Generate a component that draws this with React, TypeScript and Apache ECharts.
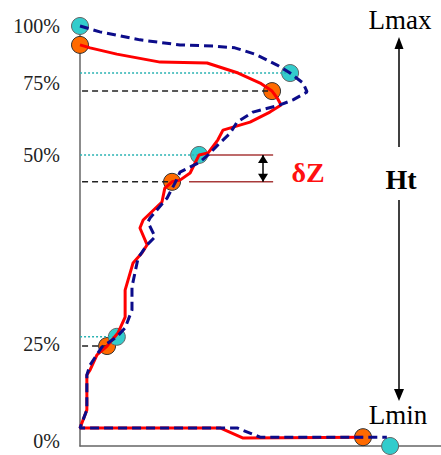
import React, { useEffect, useRef } from 'react';
import * as echarts from 'echarts';

// Profile of the measured (red, solid) and modelled (blue, dashed) curves: [x, height]
const redProfile: [number, number][] = [
  [0, 95.5], [2.8, 94.8], [10.2, 93.3], [22.2, 91.4], [35.2, 91.2], [43.8, 88.8], [49.9, 86.4],
  [53.2, 84.5], [54.6, 82.9], [55.7, 81.2], [52.6, 79.5], [47.1, 77.1], [39.6, 75.2], [38.2, 72.9],
  [35.5, 69.8], [33.0, 69.3], [30.5, 65.0], [27.7, 63.3], [25.5, 62.9], [23.5, 61.4], [22.7, 58.1],
  [17.5, 53.8], [16.6, 51.9], [18.6, 47.9], [17.2, 46.0], [14.7, 43.6], [12.5, 37.1], [12.5, 30.7],
  [10.5, 26.9], [7.5, 23.8], [4.7, 21.7], [2.8, 18.1], [1.9, 16.9], [1.9, 8.6], [0, 4.3],
  [38.8, 4.3], [45.2, 1.9], [78.4, 2.1],
];
const blueProfile: [number, number][] = [
  [0, 100], [5.5, 98.6], [16.6, 96.7], [27.7, 95.5], [37.4, 95.2], [42.9, 94.8], [48.5, 93.3],
  [54.6, 90.7], [58.2, 88.8], [61.8, 86.4], [62.9, 84.3], [59.0, 82.4], [55.4, 81.2], [47.9, 79.5],
  [43.5, 77.1], [41.6, 74.5], [38.2, 71.7], [35.5, 69.3], [33.2, 67.6], [27.7, 65.2], [26.3, 62.6],
  [24.1, 59.0], [19.4, 54.3], [18.8, 53.3], [20.8, 49.8], [18.6, 47.9], [16.1, 44.8], [14.4, 37.9],
  [14.4, 32.4], [12.5, 28.1], [10.2, 26.0], [6.1, 23.6], [2.8, 19.3], [1.9, 16.9], [1.9, 8.6],
  [0, 4.3], [43.5, 4.3], [49.9, 2.1], [85.0, 2.1],
];
const orangePoints: [number, number][] = [[0, 95.5], [53.2, 84.5], [25.5, 62.9], [7.5, 23.8], [78.4, 2.1]];
const cyanPoints: [number, number][] = [[0, 100], [58.2, 88.8], [33.0, 69.3], [10.2, 26.0], [85.9, 0]];

const yLabelValues = [1.2, 24.3, 69.3, 86.4, 100];
const yLabelTexts = ['0%', '25%', '50%', '75%', '100%'];

const refLineStart = -2.2;
const refIndices = [1, 2, 3];
const dzLineStarts = [35.5, 30.2];
const dzLineEnd = 53.5;
const dzArrowX = 50.7;

const SERIF = '"Liberation Serif", "Times New Roman", serif';

export default function App() {
  const ref = useRef<HTMLDivElement>(null);
  useEffect(() => {
    if (!ref.current) return;
    const chart = echarts.init(ref.current, null, { renderer: 'svg' });
    const dzTop = cyanPoints[2][1];
    const dzBottom = orangePoints[2][1];

    const cyanRefs = refIndices.map((i) => ({
      type: 'line',
      data: [[refLineStart, cyanPoints[i][1]], [cyanPoints[i][0], cyanPoints[i][1]]],
      symbol: 'none', clip: false, silent: true,
      lineStyle: { color: '#2bb3b3', width: 1.5, type: [2, 2] },
    }));
    const blackRefs = refIndices.map((i) => ({
      type: 'line',
      data: [[refLineStart, orangePoints[i][1]], [orangePoints[i][0], orangePoints[i][1]]],
      symbol: 'none', clip: false, silent: true,
      lineStyle: { color: '#222', width: 1.5, type: [6, 4] },
    }));
    const dzLines = [dzTop, dzBottom].map((y, k) => ({
      type: 'line',
      data: [[dzLineStarts[k], y], [dzLineEnd, y]],
      symbol: 'none', clip: false, silent: true,
      lineStyle: { color: '#a83a3a', width: 1.5 },
      markLine: k === 0 ? {
        silent: true,
        symbol: ['triangle', 'triangle'],
        symbolSize: [10, 8],
        symbolOffset: [[0, 4], [0, 4]],
        label: { show: false },
        lineStyle: { color: '#000', width: 1.5, type: 'solid' },
        data: [[{ coord: [dzArrowX, dzTop] }, { coord: [dzArrowX, dzBottom] }]],
      } : undefined,
    }));

    chart.setOption({
      animation: false,
      grid: { left: 80, right: 0, top: 26, bottom: 9, containLabel: false, outerBoundsMode: 'none' },
      xAxis: {
        type: 'value', min: 0, max: 100,
        axisLine: { show: true, lineStyle: { color: '#666', width: 1.5 } },
        axisTick: { show: false }, axisLabel: { show: false }, splitLine: { show: false },
      },
      yAxis: {
        type: 'value', min: 0, max: 100,
        axisLine: { show: true, lineStyle: { color: '#666', width: 1.5 } },
        axisTick: { show: false }, splitLine: { show: false },
        axisLabel: {
          customValues: yLabelValues,
          margin: 20,
          fontFamily: SERIF, fontSize: 20, lineHeight: 15, color: '#222',
          formatter: (v: number) => {
            const i = yLabelValues.findIndex((t) => Math.abs(t - v) < 0.01);
            return i >= 0 ? yLabelTexts[i] : '';
          },
        },
      },
      series: [
        ...cyanRefs,
        ...blackRefs,
        ...dzLines,
        {
          type: 'line', data: redProfile, symbol: 'none', clip: false, silent: true,
          lineStyle: { color: '#ff0000', width: 3 },
        },
        {
          type: 'scatter', data: orangePoints, symbolSize: 17, clip: false, silent: true,
          itemStyle: { color: '#ff6a00', borderColor: '#333', borderWidth: 1, opacity: 1 },
        },
        {
          type: 'line', data: blueProfile, symbol: 'none', clip: false, silent: true,
          lineStyle: { color: '#0c0c8a', width: 3, type: [9, 5] },
        },
        {
          type: 'scatter', data: cyanPoints, symbolSize: 17, clip: false, silent: true,
          itemStyle: { color: '#33cccc', borderColor: '#666', borderWidth: 1, opacity: 1 },
        },
      ],
      graphic: [
        { type: 'text', x: 400, y: 20, style: { text: 'Lmax', fontFamily: SERIF, fontSize: 27, fill: '#000', align: 'center', verticalAlign: 'middle', textAlign: 'center', textVerticalAlign: 'middle' } },
        { type: 'line', shape: { x1: 399, y1: 48, x2: 399, y2: 147 }, style: { stroke: '#000', lineWidth: 1.5 } },
        { type: 'polygon', shape: { points: [[399, 37], [394.5, 49], [403.5, 49]] }, style: { fill: '#000' } },
        { type: 'text', x: 401, y: 179, style: { text: 'Ht', fontFamily: SERIF, fontSize: 28, fontWeight: 'bold', fill: '#000', align: 'center', verticalAlign: 'middle', textAlign: 'center', textVerticalAlign: 'middle' } },
        { type: 'line', shape: { x1: 399, y1: 200, x2: 399, y2: 390 }, style: { stroke: '#000', lineWidth: 1.5 } },
        { type: 'polygon', shape: { points: [[399, 401], [394, 389], [404, 389]] }, style: { fill: '#000' } },
        { type: 'text', x: 398, y: 415, style: { text: 'Lmin', fontFamily: SERIF, fontSize: 27, fill: '#000', align: 'center', verticalAlign: 'middle', textAlign: 'center', textVerticalAlign: 'middle' } },
        { type: 'text', x: 308, y: 172, style: { text: 'δZ', fontFamily: SERIF, fontSize: 28, fontWeight: 'bold', fill: '#ff1010', align: 'center', verticalAlign: 'middle', textAlign: 'center', textVerticalAlign: 'middle' } },
      ],
    });
    return () => chart.dispose();
  }, []);
  return <div ref={ref} style={{ position: 'fixed', left: 0, top: 0, width: 441, height: 455, background: '#fff' }} />;
}
